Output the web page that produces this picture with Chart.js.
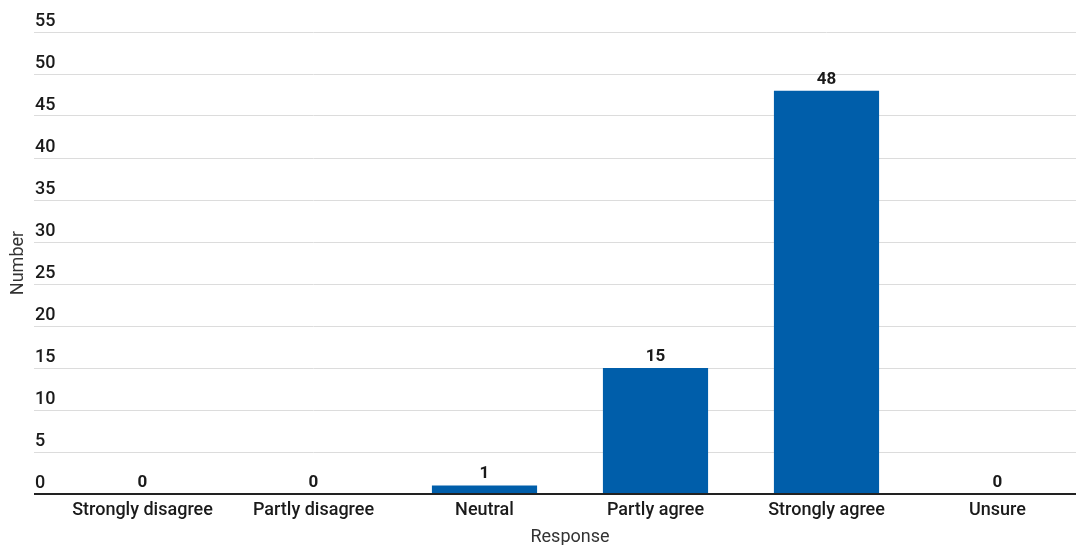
<!DOCTYPE html>
<html>
<head>
<meta charset="utf-8">
<script src="https://cdn.jsdelivr.net/npm/chart.js@4"></script>
<style>
  html, body { margin: 0; padding: 0; background: #fff; overflow: hidden; }
  #wrap { width: 1083px; height: 545px; }
</style>
</head>
<body>
<div id="wrap"><canvas id="chart"></canvas></div>
<script>
const categories = ["Strongly disagree", "Partly disagree", "Neutral", "Partly agree", "Strongly agree", "Unsure"];
const counts = [0, 0, 1, 15, 48, 0];
const yTicks = [0, 5, 10, 15, 20, 25, 30, 35, 40, 45, 50, 55];

// value labels above each bar
const barLabels = {
	id: "barLabels",
	afterDatasetsDraw(chart) {
		const ctx = chart.ctx;
		const meta = chart.getDatasetMeta(0);
		ctx.save();
		ctx.font = "bold 17px Roboto";
		ctx.fillStyle = "#1a1a1a";
		ctx.textAlign = "center";
		ctx.textBaseline = "bottom";
		meta.data.forEach((bar, i) => {
			ctx.fillText(String(counts[i]), bar.x, bar.y - 3);
		});
		ctx.restore();
	},
};

const ctx = document.getElementById("chart").getContext("2d");
new Chart(ctx, {
	type: "bar",
	data: {
		labels: categories,
		datasets: [
			{
				data: counts,
				backgroundColor: "#005eaa",
				categoryPercentage: 1,
				barPercentage: 0.615,
			},
		],
	},
	options: {
		responsive: true,
		maintainAspectRatio: false,
		animation: false,
		layout: { padding: { top: 32, right: 0, left: 0, bottom: 0 } },
		plugins: {
			legend: { display: false },
			tooltip: { enabled: false },
		},
		scales: {
			x: {
				grid: { display: false, drawTicks: false },
				border: { display: false },
				ticks: {
					padding: 6,
					color: "#1a1a1a",
					font: { family: "Roboto", size: 18, weight: "500" },
				},
				title: {
					display: true,
					text: "Response",
					color: "#333",
					padding: { top: 0, bottom: -3 },
					font: { family: "Roboto", size: 18 },
				},
				afterFit(scale) {
					scale.height = 51;
				},
			},
			y: {
				min: 0,
				max: 55,
				border: { display: false },
				grid: {
					color: (c) => (c.tick && c.tick.value === 0 ? "#222" : "#dcdcdc"),
					lineWidth: (c) => (c.tick && c.tick.value === 0 ? 2 : 1),
					drawTicks: true,
					tickLength: 23,
				},
				afterBuildTicks(scale) {
					scale.ticks = yTicks.map((v) => ({ value: v }));
				},
				ticks: {
					mirror: true,
					padding: -22,
					labelOffset: -11,
					color: "#1a1a1a",
					font: { family: "Roboto", size: 18, weight: "500" },
				},
				title: {
					display: true,
					text: "Number",
					color: "#333",
					padding: { top: 8, bottom: 0 },
					font: { family: "Roboto", size: 18 },
				},
				afterFit(scale) {
					scale.width = 57;
				},
			},
		},
	},
	plugins: [barLabels],
});
</script>
</body>
</html>
